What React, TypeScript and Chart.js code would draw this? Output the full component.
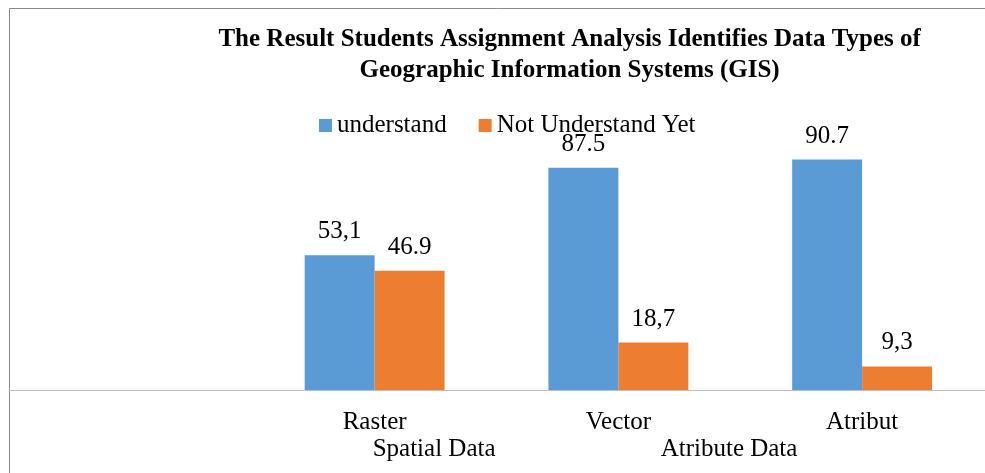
import React, { useEffect, useRef } from "react";
import { Chart, registerables } from "chart.js";

Chart.register(...registerables);

const categories = ["", "Raster", "Vector", "Atribut"];
const understand = [null, 53.1, 87.5, 90.7];
const notUnderstandYet = [null, 46.9, 18.7, 9.3];
const understandText = ["", "53,1", "87.5", "90.7"];
const notUnderstandText = ["", "46.9", "18,7", "9,3"];
const seriesNames = ["understand", "Not Understand Yet"];
const seriesColors = ["#5B9BD5", "#ED7D31"];
const titleLines = [
  "The Result Students Assignment Analysis Identifies Data Types of",
  "Geographic Information Systems (GIS)",
];
const groupLabels = ["Spatial Data", "Atribute Data"];

const FONT = "'Liberation Serif', 'Times New Roman', serif";

const decor = {
  id: "decor",
  beforeDraw(chart: any) {
    const { ctx, width, height } = chart;
    ctx.save();
    ctx.fillStyle = "#fff";
    ctx.fillRect(0, 0, width, height);
    ctx.strokeStyle = "#8a8a8a";
    ctx.lineWidth = 1;
    ctx.beginPath();
    ctx.moveTo(9.5, height);
    ctx.lineTo(9.5, 8.5);
    ctx.lineTo(width, 8.5);
    ctx.stroke();
    ctx.restore();
  },
  afterDraw(chart: any) {
    const { ctx, chartArea, scales } = chart;
    ctx.save();
    ctx.fillStyle = "#000";
    ctx.textBaseline = "alphabetic";

    // title
    ctx.font = `bold 25px ${FONT}`;
    ctx.textAlign = "center";
    const tx = chartArea.left + chartArea.width * 0.575;
    titleLines.forEach((l, i) => ctx.fillText(l, tx, 46 + i * 31));

    // legend
    ctx.font = `25px ${FONT}`;
    const box = 13;
    const gapText = 5;
    const gapItem = 32;
    const widths = seriesNames.map((n) => ctx.measureText(n).width);
    const total =
      widths.reduce((a, w) => a + box + gapText + w, 0) + gapItem * (seriesNames.length - 1);
    let lx = chartArea.left + chartArea.width * 0.511 - total / 2;
    const ly = 132;
    ctx.textAlign = "left";
    seriesNames.forEach((n, i) => {
      ctx.fillStyle = seriesColors[i];
      ctx.fillRect(lx, ly - box, box, box);
      ctx.fillStyle = "#000";
      ctx.fillText(n, lx + box + gapText, ly);
      lx += box + gapText + widths[i] + gapItem;
    });

    // data labels
    ctx.textAlign = "center";
    const texts = [understandText, notUnderstandText];
    chart.data.datasets.forEach((_ds: any, di: number) => {
      const meta = chart.getDatasetMeta(di);
      meta.data.forEach((bar: any, i: number) => {
        const t = texts[di][i];
        if (!t) return;
        ctx.fillText(t, bar.x, bar.y - 17);
      });
    });

    // group labels (second axis level)
    const groupPos = [1.244, 2.454];
    groupLabels.forEach((g, i) => {
      ctx.fillText(g, scales.x.getPixelForValue(groupPos[i]), 456);
    });
    ctx.restore();
  },
};

export default function App() {
  const ref = useRef<HTMLCanvasElement>(null);
  useEffect(() => {
    if (!ref.current) return;
    const chart = new Chart(ref.current, {
      type: "bar",
      data: {
        labels: categories,
        datasets: [
          {
            label: seriesNames[0],
            data: understand,
            backgroundColor: seriesColors[0],
            categoryPercentage: 0.574,
            barPercentage: 1,
          },
          {
            label: seriesNames[1],
            data: notUnderstandYet,
            backgroundColor: seriesColors[1],
            categoryPercentage: 0.574,
            barPercentage: 1,
          },
        ],
      },
      options: {
        animation: false,
        responsive: false,
        devicePixelRatio: 1,
        layout: { padding: { left: 9, right: 1, top: 136, bottom: 0 } },
        plugins: {
          legend: { display: false },
          title: { display: false },
          tooltip: { enabled: false },
        },
        scales: {
          x: {
            type: "category",
            grid: { display: false, drawTicks: false },
            border: { display: true, color: "#bfbfbf", width: 1 },
            ticks: {
              font: { family: FONT, size: 25 },
              color: "#000",
              padding: 17,
              maxRotation: 0,
              autoSkip: false,
            },
            afterFit: (s: any) => {
              s.height = 83;
            },
          },
          y: { display: false, min: 0, max: 100 },
        },
      },
      plugins: [decor],
    });
    return () => chart.destroy();
  }, []);
  return (
    <div style={{ position: "fixed", left: 0, top: 0, width: 985, height: 473 }}>
      <canvas ref={ref} width={985} height={473} style={{ display: "block" }} />
    </div>
  );
}
